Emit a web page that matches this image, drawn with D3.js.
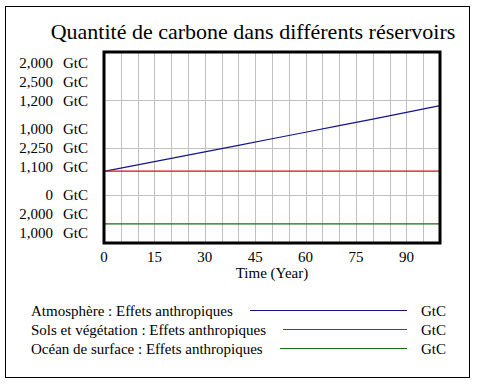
<!DOCTYPE html>
<html>
<head>
<meta charset="utf-8">
<script src="https://cdn.jsdelivr.net/npm/d3@7"></script>
<style>
    body { margin: 0; background: #fff; }
    svg text { font-family: "Liberation Serif", "Times New Roman", serif; fill: #000; }
</style>
</head>
<body>
<div id="chart"></div>
<script>
"use strict"

// Data (GtC), one point every 10 years.
const years = [0, 10, 20, 30, 40, 50, 60, 70, 80, 90, 100];
const atmosphere = [750, 818, 886, 955, 1023, 1092, 1160, 1229, 1298, 1368, 1438];
const sols = [2188, 2188, 2188, 2188, 2188, 2188, 2188, 2188, 2188, 2188, 2188];
const ocean = [1020, 1020, 1020, 1020, 1020, 1020, 1020, 1020, 1020, 1020, 1020];

const seriesNames = [
    "Atmosphère : Effets anthropiques",
    "Sols et végétation : Effets anthropiques",
    "Océan de surface : Effets anthropiques"
];
const seriesColors = ["#14148c", "#d01010", "#107010"];
// each series has its own scale (min, max)
const seriesDomains = [[0, 2000], [2000, 2500], [1000, 1200]];
const unit = "GtC";
const xTicks = [0, 15, 30, 45, 60, 75, 90];

const W = 477, H = 388;
const plot = {left: 104, top: 52, right: 440, bottom: 243};

let svg = d3.select("#chart").append("svg")
    .attr("width", W)
    .attr("height", H);

// Outer frame
svg.append("rect")
    .attr("x", 5.5).attr("y", 6.5)
    .attr("width", 464).attr("height", 371)
    .style("fill", "none")
    .style("stroke", "#000")
    .style("stroke-width", 1);

svg.append("text")
    .attr("x", 253)
    .attr("y", 39)
    .attr("text-anchor", "middle")
    .style("font-size", "22px")
    .text("Quantité de carbone dans différents réservoirs");

let x = d3.scaleLinear().domain([0, 100]).range([plot.left, plot.right]);
let frac = d3.scaleLinear().domain([0, 1]).range([plot.bottom, plot.top]);
let yScales = seriesDomains.map(d => d3.scaleLinear().domain(d).range([plot.bottom, plot.top]));

// Grid
let g = svg.append("g");
g.selectAll(".vgrid").data(d3.range(5, 100, 5)).enter().append("line")
    .attr("class", "vgrid")
    .attr("x1", d => Math.round(x(d)) + 0.5).attr("x2", d => Math.round(x(d)) + 0.5)
    .attr("y1", plot.top).attr("y2", plot.bottom)
    .style("stroke", "#c0c0c0");
g.selectAll(".hgrid").data([0.25, 0.5, 0.75]).enter().append("line")
    .attr("class", "hgrid")
    .attr("x1", plot.left).attr("x2", plot.right)
    .attr("y1", d => Math.round(frac(d)) + 0.5).attr("y2", d => Math.round(frac(d)) + 0.5)
    .style("stroke", "#c0c0c0");

// Series lines
let data = [atmosphere, sols, ocean];
data.forEach(function(values, i) {
    let line = d3.line()
        .x((d, j) => x(years[j]))
        .y(d => yScales[i](d));
    svg.append("path")
        .datum(values)
        .attr("d", line)
        .style("fill", "none")
        .style("stroke", seriesColors[i])
        .style("stroke-width", 1.2);
});

// Plot border
svg.append("rect")
    .attr("x", plot.left).attr("y", plot.top)
    .attr("width", plot.right - plot.left).attr("height", plot.bottom - plot.top)
    .style("fill", "none")
    .style("stroke", "#000")
    .style("stroke-width", 3);

// Stacked y labels: max, middle and min of each scale
let levels = [
    {v: s => s.domain()[1], base: plot.top + 16},
    {v: s => (s.domain()[0] + s.domain()[1]) / 2, base: (plot.top + plot.bottom) / 2 - 14},
    {v: s => s.domain()[0], base: plot.bottom - 43}
];
let fmt = d3.format(",");
levels.forEach(function(lev) {
    yScales.forEach(function(s, i) {
        let yy = lev.base + i * 19;
        svg.append("text")
            .attr("x", 53).attr("y", yy)
            .attr("text-anchor", "end")
            .style("font-size", "15px")
            .text(fmt(lev.v(s)));
        svg.append("text")
            .attr("x", 63).attr("y", yy)
            .style("font-size", "15px")
            .text(unit);
    });
});

// X axis labels
svg.selectAll(".xlabel").data(xTicks).enter().append("text")
    .attr("class", "xlabel")
    .attr("x", d => x(d))
    .attr("y", 262)
    .attr("text-anchor", "middle")
    .style("font-size", "15px")
    .text(d => d);

svg.append("text")
    .attr("x", (plot.left + plot.right) / 2)
    .attr("y", 278)
    .attr("text-anchor", "middle")
    .style("font-size", "15px")
    .text("Time (Year)");

// Legend
seriesNames.forEach(function(name, i) {
    let yy = 316 + i * 19;
    let t = svg.append("text")
        .attr("x", 31).attr("y", yy)
        .style("font-size", "15px")
        .text(name);
    let endText = 31 + t.node().getComputedTextLength();
    let ly = Math.round(yy - 6) + 0.5;
    svg.append("line")
        .attr("x1", Math.round(endText + 17)).attr("x2", 407)
        .attr("y1", ly).attr("y2", ly)
        .style("stroke", seriesColors[i])
        .style("stroke-width", 1.2);
    svg.append("text")
        .attr("x", 421).attr("y", yy)
        .style("font-size", "15px")
        .text(unit);
});
</script>
</body>
</html>
